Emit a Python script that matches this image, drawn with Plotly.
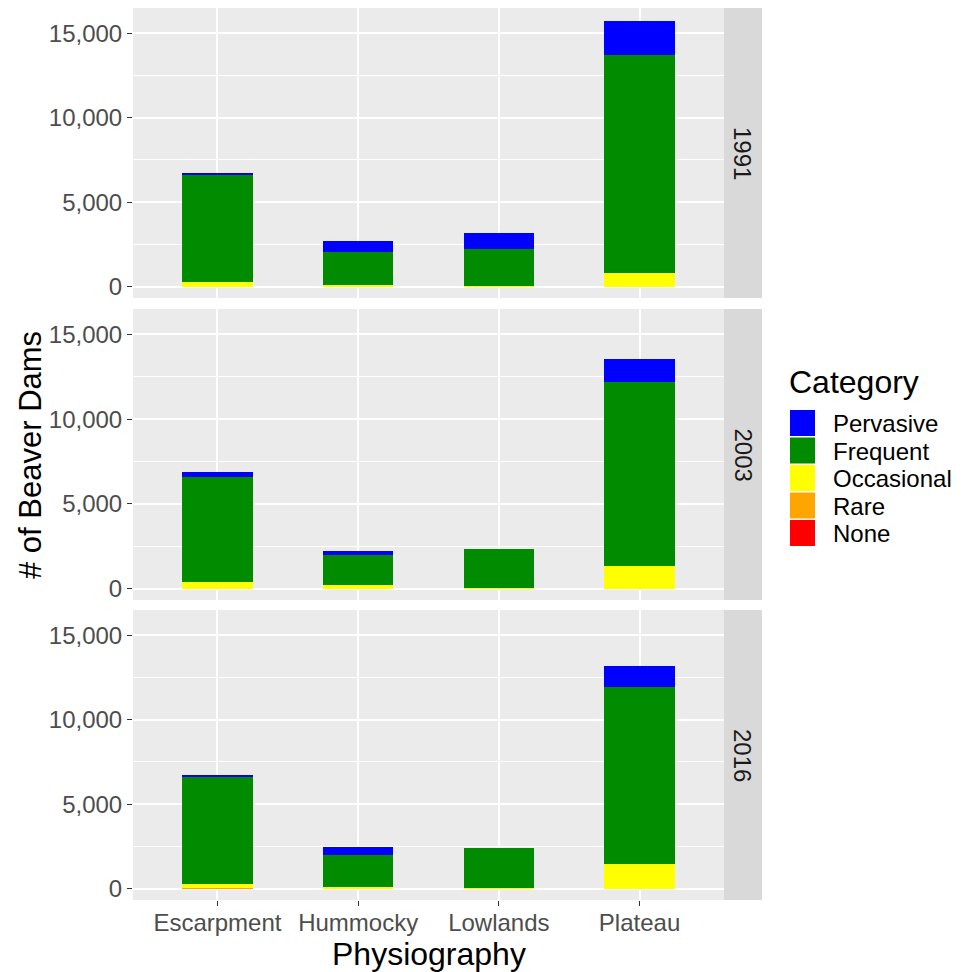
import plotly.graph_objects as go

# ---------------- data ----------------
sites = ["Escarpment", "Hummocky", "Lowlands", "Plateau"]
years = ["1991", "2003", "2016"]
category_names = ["None", "Rare", "Occasional", "Frequent", "Pervasive"]
category_colors = ["#FF0000", "#FFA500", "#FFFF00", "#008B00", "#0000FF"]

none_1991 = [0, 0, 0, 0]
rare_1991 = [0, 0, 0, 0]
occasional_1991 = [290, 95, 20, 840]
frequent_1991 = [6300, 1970, 2240, 12850]
pervasive_1991 = [140, 650, 890, 2020]

none_2003 = [0, 0, 0, 0]
rare_2003 = [0, 0, 0, 0]
occasional_2003 = [370, 230, 20, 1350]
frequent_2003 = [6230, 1740, 2340, 10850]
pervasive_2003 = [300, 240, 0, 1360]

none_2016 = [0, 0, 0, 0]
rare_2016 = [60, 0, 0, 0]
occasional_2016 = [200, 130, 50, 1460]
frequent_2016 = [6360, 1880, 2340, 10500]
pervasive_2016 = [100, 450, 0, 1240]

y_tick_vals = [0, 5000, 10000, 15000]
y_tick_text = ["0", "5,000", "10,000", "15,000"]

series_by_year = {
    "1991": [none_1991, rare_1991, occasional_1991, frequent_1991, pervasive_1991],
    "2003": [none_2003, rare_2003, occasional_2003, frequent_2003, pervasive_2003],
    "2016": [none_2016, rare_2016, occasional_2016, frequent_2016, pervasive_2016],
}

# ---------------- layout geometry (paper fractions) ----------------
W, H = 966, 972
def px_x(p):
    return p / W
def px_y(p):
    return 1 - p / H

x_dom = [px_x(133), px_x(724)]
panel_px = [(8, 298), (309, 600), (610, 900)]
y_doms = [[px_y(b), px_y(t)] for (t, b) in panel_px]

fig = go.Figure()

max_total = max(
    sum(v[i] for v in series_by_year[y]) for y in years for i in range(len(sites))
)
ypad = max_total * 0.05
y_range = [-ypad * 0.85, max_total + ypad]

FONT = "Liberation Sans, Arial, sans-serif"
TICK_COLOR = "#4d4d4d"

for r, year in enumerate(years):
    ax = "" if r == 0 else str(r + 1)
    for k, name in enumerate(category_names):
        fig.add_trace(go.Bar(
            x=sites,
            y=series_by_year[year][k],
            name=name,
            marker=dict(color=category_colors[k], line=dict(width=0)),
            width=0.5,
            xaxis="x" + ax,
            yaxis="y" + ax,
            showlegend=False,
            hovertemplate="%{x}<br>" + name + ": %{y}<extra>" + year + "</extra>",
        ))
    xa = dict(
        domain=x_dom,
        anchor="y" + ax,
        type="category",
        categoryorder="array",
        categoryarray=sites,
        range=[-0.6, len(sites) - 0.4],
        showgrid=True,
        gridcolor="white",
        gridwidth=2,
        zeroline=False,
        showline=False,
        ticks="outside" if r == 2 else "",
        ticklen=5,
        tickwidth=1.2,
        tickcolor="#333333",
        showticklabels=(r == 2),
        ticklabelstandoff=-4,
        tickfont=dict(family=FONT, size=24, color=TICK_COLOR),
        automargin=False,
        fixedrange=True,
    )
    if r > 0:
        xa["matches"] = "x"
    ya = dict(
        domain=y_doms[r],
        anchor="x" + ax,
        range=y_range,
        tickvals=y_tick_vals,
        ticktext=y_tick_text,
        showgrid=True,
        gridcolor="white",
        gridwidth=2,
        minor=dict(dtick=2500, tick0=0, showgrid=True, gridcolor="white", gridwidth=1, ticks=""),
        zeroline=False,
        showline=False,
        ticks="outside",
        ticklen=5,
        tickwidth=1.2,
        tickcolor="#333333",
        tickfont=dict(family=FONT, size=24, color=TICK_COLOR),
        automargin=False,
        fixedrange=True,
    )
    fig.layout["xaxis" + ax] = xa
    fig.layout["yaxis" + ax] = ya

shapes = []
annotations = []
# panel backgrounds and strips
for r, year in enumerate(years):
    shapes.append(dict(type="rect", xref="paper", yref="paper", layer="below",
                       x0=x_dom[0], x1=x_dom[1], y0=y_doms[r][0], y1=y_doms[r][1],
                       fillcolor="#EBEBEB", line=dict(width=0)))
    shapes.append(dict(type="rect", xref="paper", yref="paper", layer="below",
                       x0=px_x(724), x1=px_x(762), y0=y_doms[r][0], y1=y_doms[r][1],
                       fillcolor="#D9D9D9", line=dict(width=0)))
    annotations.append(dict(text=year, xref="paper", yref="paper",
                            x=px_x(743), y=(y_doms[r][0] + y_doms[r][1]) / 2,
                            showarrow=False, textangle=90,
                            font=dict(family=FONT, size=24, color="#1a1a1a"),
                            xanchor="center", yanchor="middle"))

# axis titles
annotations.append(dict(text="Physiography", xref="paper", yref="paper",
                        x=(x_dom[0] + x_dom[1]) / 2, y=px_y(954),
                        showarrow=False, font=dict(family=FONT, size=32, color="black"),
                        xanchor="center", yanchor="middle"))
annotations.append(dict(text="# of Beaver Dams", xref="paper", yref="paper",
                        x=px_x(30), y=px_y(455),
                        showarrow=False, textangle=-90,
                        font=dict(family=FONT, size=31, color="black"),
                        xanchor="center", yanchor="middle"))

# legend
annotations.append(dict(text="Category", xref="paper", yref="paper",
                        x=px_x(787), y=px_y(382),
                        showarrow=False, font=dict(family=FONT, size=32, color="black"),
                        xanchor="left", yanchor="middle"))
legend_order = list(reversed(range(len(category_names))))
for i, k in enumerate(legend_order):
    top = 410 + i * 27.5
    shapes.append(dict(type="rect", xref="paper", yref="paper",
                       x0=px_x(790), x1=px_x(815), y0=px_y(top + 26), y1=px_y(top),
                       fillcolor=category_colors[k], line=dict(width=0)))
    annotations.append(dict(text=category_names[k], xref="paper", yref="paper",
                            x=px_x(831), y=px_y(top + 13.5),
                            showarrow=False, font=dict(family=FONT, size=24, color="black"),
                            xanchor="left", yanchor="middle"))

fig.update_layout(
    width=W, height=H,
    margin=dict(l=0, r=0, t=0, b=0, pad=0),
    paper_bgcolor="white",
    plot_bgcolor="#EBEBEB",
    barmode="stack",
    bargap=0,
    showlegend=False,
    shapes=shapes,
    annotations=annotations,
    font=dict(family=FONT),
)

fig.write_html("out.html", config={"displayModeBar": False},
               post_script="document.body.style.margin='0';")
